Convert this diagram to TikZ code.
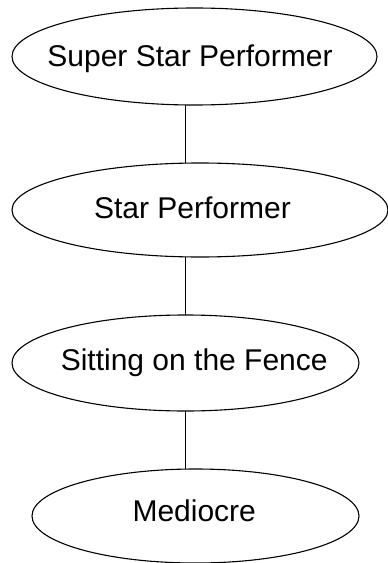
\documentclass[tikz,border=0pt]{standalone}
\usepackage{fontspec}
\setmainfont{Liberation Sans}
\usetikzlibrary{shapes.geometric}
\begin{document}
\begin{tikzpicture}[x=1bp,y=1bp,
  oval/.style={draw=black, line width=1.1bp, ellipse, inner sep=0pt, outer sep=0pt},
  lbl/.style={anchor=base, inner sep=0pt, font=\fontsize{30bp}{36bp}\selectfont},
  conn/.style={draw=black, line width=1.1bp}]
\useasboundingbox (0,0) rectangle (387,-563);
\node[oval, minimum width=365bp, minimum height=97bp] (e1) at (194.5,-56.5) {};
\node[oval, minimum width=376bp, minimum height=94bp] (e2) at (200,-210) {};
\node[oval, minimum width=347bp, minimum height=96bp] (e3) at (185.5,-363) {};
\node[oval, minimum width=327bp, minimum height=94bp] (e4) at (195.5,-516) {};
\node[lbl] (t1) at (190,-66.7) {Super Star Performer};
\node[lbl] (t2) at (192.5,-218.3) {Star Performer};
\node[lbl] (t3) at (194.2,-370.7) {Sitting on the Fence};
\node[lbl] (t4) at (194.2,-521.7) {Mediocre};
\coordinate (lx) at (185.5,0);
\draw[conn] (e1.south -| lx) -- (e2.north -| lx);
\draw[conn] (e2.south -| lx) -- (e3.north -| lx);
\draw[conn] (e3.south -| lx) -- (e4.north -| lx);
\end{tikzpicture}
\end{document}
